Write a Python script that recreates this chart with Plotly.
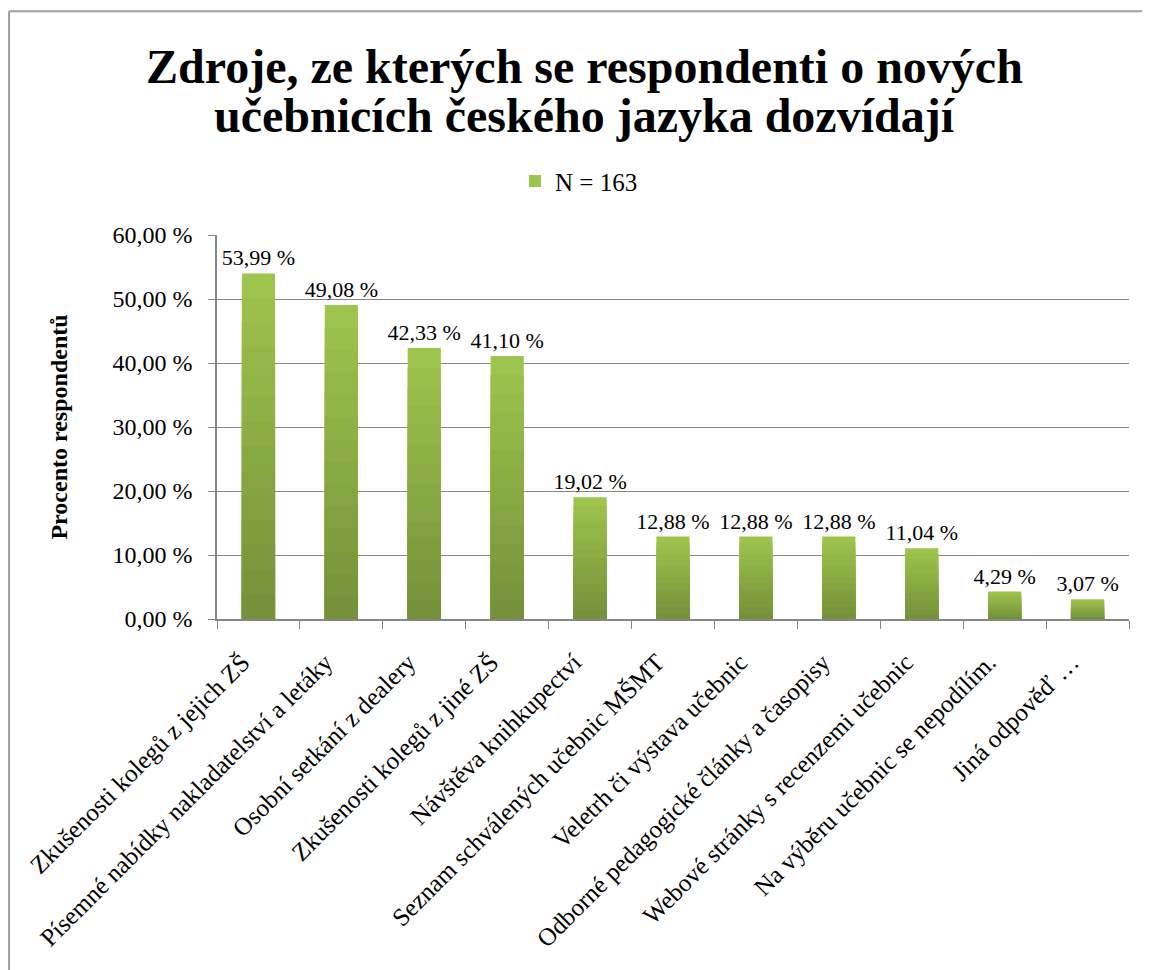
import plotly.graph_objects as go

# zdroje informaci o novych ucebnicich
title_lines = [
    "Zdroje, ze kterých se respondenti o nových",
    "učebnicích českého jazyka dozvídají",
]
categories = [
    "Zkušenosti kolegů z jejich ZŠ",
    "Písemné nabídky nakladatelství a letáky",
    "Osobní setkání z dealery",
    "Zkušenosti kolegů z jiné ZŠ",
    "Návštěva knihkupectví",
    "Seznam schválených učebnic MŠMT",
    "Veletrh či výstava učebnic",
    "Odborné pedagogické články a časopisy",
    "Webové stránky s recenzemi učebnic",
    "Na výběru učebnic se nepodílím.",
    "Jiná odpověď …",
]
values = [53.99, 49.08, 42.33, 41.10, 19.02, 12.88, 12.88, 12.88, 11.04, 4.29, 3.07]
series_name = "N = 163"

FONT = "Liberation Serif, Times New Roman, serif"
top_rgb = (157, 196, 76)
bottom_rgb = (117, 146, 58)
n_layers = 14

fig = go.Figure()
# prechod barvy - prekryte sloupce od nejvyssiho po nejnizsi
for k in range(n_layers):
    f = 1 - k / n_layers
    t = k / (n_layers - 1)
    c = tuple(round(top_rgb[i] + (bottom_rgb[i] - top_rgb[i]) * t) for i in range(3))
    fig.add_trace(go.Bar(
        x=categories,
        y=[v * f for v in values],
        name=series_name,
        width=0.4,
        marker=dict(color="rgb(%d,%d,%d)" % c, line=dict(width=0)),
        showlegend=(k == 0),
        text=[f"{v:.2f} %".replace(".", ",") for v in values] if k == 0 else None,
        textposition="outside" if k == 0 else "none",
        constraintext="none",
        textfont=dict(size=22, color="black", family=FONT),
        cliponaxis=False,
        hoverinfo="skip" if k > 0 else None,
    ))

# nadpis po radcich (tesnejsi radkovani nez title)
for txt, ypos in zip(title_lines, [1.44, 1.3125]):
    fig.add_annotation(
        text=txt, xref="paper", yref="paper", x=0.4035, y=ypos,
        xanchor="center", yanchor="middle", showarrow=False,
        font=dict(size=48, family=FONT, color="black", weight="bold"),
    )

fig.update_layout(
    barmode="overlay",
    width=1142,
    height=962,
    separators=", ",
    paper_bgcolor="white",
    plot_bgcolor="white",
    font=dict(family=FONT, size=22, color="black"),
    legend=dict(
        orientation="h", xref="container", x=0.5, xanchor="center", y=1.14, yanchor="middle",
        font=dict(size=25, family=FONT), itemwidth=30,
    ),
    margin=dict(l=209, r=21, t=227, b=351, autoexpand=False),
    xaxis=dict(
        automargin=False,
        tickangle=-45,
        tickson="boundaries",
        ticks="outside",
        ticklen=8,
        tickcolor="#868686",
        ticklabelshift=-16,
        ticklabelstandoff=17,
        showline=True,
        linecolor="#868686",
        linewidth=1.5,
        showgrid=False,
        tickfont=dict(size=25, family=FONT),
    ),
    yaxis=dict(
        automargin=False,
        range=[0, 60],
        dtick=10,
        tickformat=".2f",
        ticksuffix=" %",
        ticks="outside",
        ticklen=7,
        tickcolor="#868686",
        ticklabelstandoff=11,
        showline=True,
        linecolor="#868686",
        linewidth=1.5,
        gridcolor="#868686",
        gridwidth=1.2,
        zeroline=False,
        tickfont=dict(size=24, family=FONT),
        title=dict(text="Procento respondentů", font=dict(size=24, family=FONT, weight="bold"), standoff=38),
    ),
)

# ramecek grafu
fig.add_shape(type="line", xref="paper", yref="paper", x0=-0.228, x1=1.03, y0=1.583, y1=1.583,
              line=dict(color="#a0a0a0", width=2))
fig.add_shape(type="line", xref="paper", yref="paper", x0=-0.228, x1=-0.228, y0=1.583, y1=-0.95,
              line=dict(color="#a0a0a0", width=2))

fig.write_html("out.html")
